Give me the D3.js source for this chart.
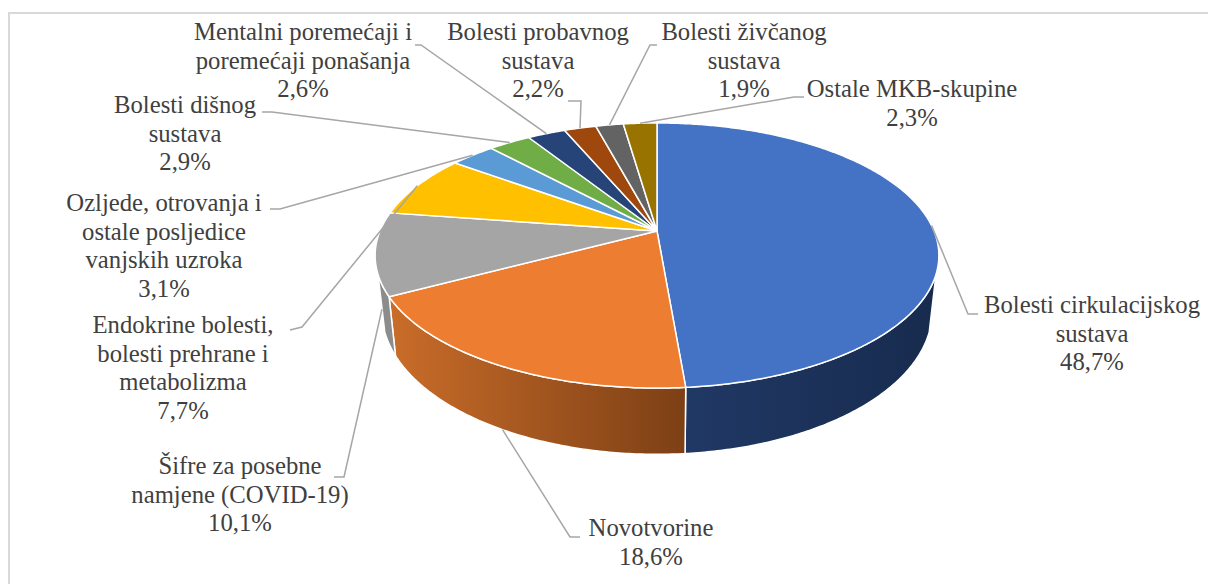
<!DOCTYPE html>
<html>
<head>
<meta charset="utf-8">
<script src="https://cdn.jsdelivr.net/npm/d3@7"></script>
<style>
  html, body { margin: 0; padding: 0; background: #fff; overflow: hidden; }
  text { font-family: "Liberation Serif", serif; fill: #404040; }
</style>
</head>
<body>
<div id="chart"></div>
<script>
// data
var categories = ["Bolesti cirkulacijskog sustava", "Novotvorine", "Šifre za posebne namjene (COVID-19)",
  "Endokrine bolesti, bolesti prehrane i metabolizma", "Ozljede, otrovanja i ostale posljedice vanjskih uzroka",
  "Bolesti dišnog sustava", "Mentalni poremećaji i poremećaji ponašanja", "Bolesti probavnog sustava",
  "Bolesti živčanog sustava", "Ostale MKB-skupine"];
var values = [48.7, 18.6, 10.1, 7.7, 3.1, 2.9, 2.6, 2.2, 1.9, 2.3];
var valueLabels = ["48,7%", "18,6%", "10,1%", "7,7%", "3,1%", "2,9%", "2,6%", "2,2%", "1,9%", "2,3%"];
var colors = ["#4472C4", "#ED7D31", "#A5A5A5", "#FFC000", "#5B9BD5", "#70AD47", "#264478", "#9E480E", "#636363", "#997300"];

// label layout: wrapped lines, centre x, first baseline y, leader elbow points
var labelLines = [
  ["Bolesti cirkulacijskog", "sustava"], ["Novotvorine"], ["Šifre za posebne", "namjene (COVID-19)"],
  ["Endokrine bolesti,", "bolesti prehrane i", "metabolizma"], ["Ozljede, otrovanja i", "ostale posljedice", "vanjskih uzroka"],
  ["Bolesti dišnog", "sustava"], ["Mentalni poremećaji i", "poremećaji ponašanja"], ["Bolesti probavnog", "sustava"],
  ["Bolesti živčanog", "sustava"], ["Ostale MKB-skupine"]
];
var labelX = [1092, 651, 240, 183, 164, 185, 303, 538, 744, 912];
var labelY = [313, 536, 474, 333, 211, 113, 40, 40, 40, 97];
var leaders = [
  [[968, 314], [978, 314]], [[570, 537], [580, 537]], [[344, 477], [334, 477]],
  [[302, 327], [290, 330]], [[280, 209], [270, 209]], [[272, 112], [262, 112]],
  [[421, 45], [415, 45]], [[581, 101], [568, 101]], [[650, 45], [657, 45]], [[794, 97], [804, 97]]
];
var leaderFromBottom = [false, true, true, false, false, false, false, false, false, false];

var w = 1208, h = 584;
var cx = 657, cy = 231, A = 277, B = 128, k = 0.185, depth = 54, shrink = 0.976;
// the wall only shows below this point of the rim, on both sides
var wallFrom = Math.acos(-0.32), wallTo = 2 * Math.PI - wallFrom;

var svg = d3.select("#chart").append("svg").attr("width", w).attr("height", h);

svg.append("rect").attr("x", 9).attr("y", 13).attr("width", 1300).attr("height", 700)
  .attr("fill", "#fff").attr("stroke", "#d9d9d9").attr("stroke-width", 2);

// perspective view of the disc, angle 0 at the top going clockwise
function topRim(a) {
  var u = Math.sin(a), v = -Math.cos(a), d = 1 - k * v;
  return [cx + A * u / d, cy + B * v / d];
}
function bottomRim(a) {
  var p = topRim(a), v = -Math.cos(a), d = 1 - k * v;
  return [cx + shrink * (p[0] - cx), p[1] + depth / d];
}
function samples(s, e) {
  var n = Math.max(2, Math.ceil((e - s) / 0.01));
  return d3.range(n + 1).map(function(i) { return s + (e - s) * i / n; });
}

var arcs = d3.pie().sort(null).value(function(d) { return d; })(values);
var line = d3.line();
var defs = svg.append("defs");

function sideGradient(id, stops) {
  var g = defs.append("linearGradient").attr("id", id)
    .attr("gradientUnits", "userSpaceOnUse")
    .attr("x1", 380).attr("x2", 940).attr("y1", 0).attr("y2", 0);
  stops.forEach(function(s) { g.append("stop").attr("offset", s[0]).attr("stop-color", s[1]); });
}
sideGradient("side0", [[0.55, "#203864"], [1, "#172B4E"]]);
sideGradient("side1", [[0, "#CC6E2A"], [0.55, "#7C3F15"]]);
sideGradient("side2", [[0, "#8C8C8C"], [1, "#8C8C8C"]]);

// side wall
svg.append("g").selectAll("path")
  .data(arcs.slice(0, 3))
  .enter()
  .append("path")
  .attr("d", function(d) {
    var t = samples(Math.max(d.startAngle, wallFrom), Math.min(d.endAngle, wallTo));
    return line(t.map(topRim).concat(t.slice().reverse().map(bottomRim))) + "Z";
  })
  .attr("fill", function(d, i) { return "url(#side" + i + ")"; })
  .attr("stroke", "#fff").attr("stroke-width", 1.5).attr("stroke-linejoin", "round");

// top faces
svg.append("g").selectAll("path")
  .data(arcs)
  .enter()
  .append("path")
  .attr("d", function(d) {
    return line([[cx, cy]].concat(samples(d.startAngle, d.endAngle).map(topRim))) + "Z";
  })
  .attr("fill", function(d, i) { return colors[i]; })
  .attr("stroke", "#fff").attr("stroke-width", 1.5).attr("stroke-linejoin", "round");

// leader lines start on the rim at the slice's middle
svg.append("g").selectAll("path")
  .data(arcs)
  .enter()
  .append("path")
  .attr("d", function(d, i) {
    var mid = (d.startAngle + d.endAngle) / 2;
    return line([leaderFromBottom[i] ? bottomRim(mid) : topRim(mid)].concat(leaders[i]));
  })
  .attr("fill", "none").attr("stroke", "#a6a6a6").attr("stroke-width", 1.5);

var labels = svg.append("g").selectAll("text")
  .data(categories)
  .enter()
  .append("text")
  .attr("text-anchor", "middle")
  .attr("font-size", 24.7)
  .attr("y", function(d, i) { return labelY[i]; });

labels.selectAll("tspan")
  .data(function(d, i) {
    return labelLines[i].concat(valueLabels[i]).map(function(t) { return { t: t, x: labelX[i] }; });
  })
  .enter()
  .append("tspan")
  .attr("x", function(d) { return d.x; })
  .attr("dy", function(d, i) { return i ? 28.7 : 0; })
  .text(function(d) { return d.t; });
</script>
</body>
</html>
